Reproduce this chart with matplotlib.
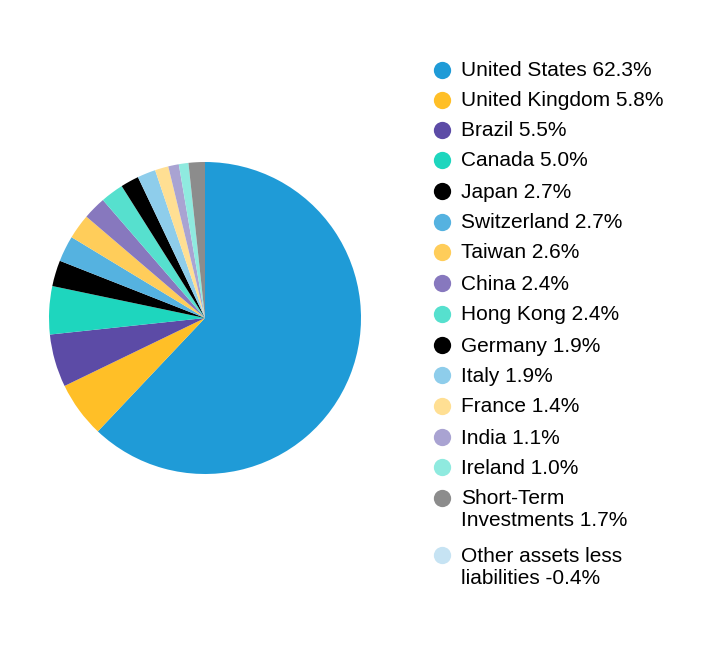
import matplotlib.pyplot as plt

plt.rcParams['font.family'] = ['Liberation Sans', 'DejaVu Sans']

labels = ['United States', 'United Kingdom', 'Brazil', 'Canada', 'Japan',
          'Switzerland', 'Taiwan', 'China', 'Hong Kong', 'Germany', 'Italy',
          'France', 'India', 'Ireland', 'Short-Term\nInvestments',
          'Other assets less\nliabilities']
values = [62.3, 5.8, 5.5, 5.0, 2.7, 2.7, 2.6, 2.4, 2.4, 1.9, 1.9, 1.4, 1.1,
          1.0, 1.7, -0.4]
colors = ['#1F9BD7', '#FFBF27', '#5C4BA6', '#1ED6BE', '#000000', '#55B2E0',
          '#FFCD5A', '#8778BE', '#56E0CE', '#000000', '#8ECDEB', '#FFDF93',
          '#A9A3D2', '#8FEADF', '#8C8C8C', '#C6E3F3']

W, H = 708, 648
fig = plt.figure(figsize=(W / 100, H / 100), dpi=100)

# pie: center (205, 318) px, radius 156 px
cx, cy, r, half = 205, 318, 156, 170
ax = fig.add_axes([(cx - half) / W, (H - cy - half) / H, 2 * half / W, 2 * half / H])
pos = [(v, c) for v, c in zip(values, colors) if v > 0]
ax.pie([v for v, c in pos], colors=[c for v, c in pos], startangle=90,
       counterclock=False, radius=1, wedgeprops=dict(linewidth=0))
lim = half / r
ax.set_xlim(-lim, lim)
ax.set_ylim(-lim, lim)
ax.axis('off')

# legend drawn in pixel coords
lg = fig.add_axes([0, 0, 1, 1])
lg.set_xlim(0, W)
lg.set_ylim(H, 0)
lg.axis('off')
rows = [70, 100, 130, 160, 191, 222, 252, 283, 314, 345, 375, 406, 437, 467, 498, 555]
for lab, v, c, y in zip(labels, values, colors, rows):
    lg.scatter([442], [y - 0.5], s=155, color=c, linewidths=0)
    lines = f'{lab} {v:.1f}%'.split('\n')
    for i, line in enumerate(lines):
        lg.text(461, y + 1 + i * 22, line, fontsize=15, va='center',
                ha='left', color='black')

fig.savefig('out.png', dpi=100)
